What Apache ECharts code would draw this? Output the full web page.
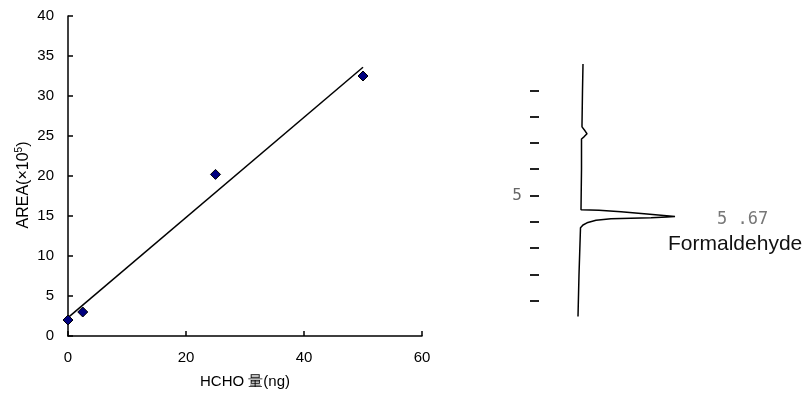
<!DOCTYPE html>
<html>
<head>
<meta charset="utf-8">
<script src="https://cdn.jsdelivr.net/npm/echarts@6/dist/echarts.min.js"></script>
<style>
html,body{margin:0;padding:0;background:#fff;}
#chart{width:812px;height:399px;}
</style>
</head>
<body>
<div id="chart"></div>
<script>
// Calibration data (HCHO amount in ng vs peak area x10^5)
const amountNg = [0, 2.5, 25, 50];
const areaE5 = [2.0, 3.0, 20.2, 32.5];
// Fitted calibration line endpoints
const fitAmount = [0, 50];
const fitArea = [2.3, 33.6];
// Chromatogram trace: retention time (min) and detector signal
const chromTime = [0.0, 1.0, 2.3, 2.39, 2.46, 2.54, 2.65, 2.77, 2.85, 4.0, 5.54, 5.56, 5.62, 5.70, 5.798, 5.82, 5.848, 5.886, 5.943, 6.038, 6.12, 6.228, 8.0, 9.6];
const chromSignal = [2, 1.5, 1, 1, 3, 4, 6, 3, 0.5, 0.5, 0, 18, 40, 66, 94, 86, 70, 30, 15, 6, 2, -0.5, -2, -3];
const chromTicks = [1, 2, 3, 4, 5, 6, 7, 8, 9];
const chromLabels = [5];
const peakTime = '5 .67';
const peakName = 'Formaldehyde';

const chart = echarts.init(document.getElementById('chart'), null, {renderer: 'canvas'});
const font = 'Liberation Sans, Arial, sans-serif';
const option = {
  animation: false,
  backgroundColor: '#fff',
  textStyle: {fontFamily: font},
  grid: [
    {left: 68, top: 16, width: 354, height: 320},
    {left: 539, top: 64, width: 142, height: 252.5}
  ],
  xAxis: [
    {
      gridIndex: 0, type: 'value', min: 0, max: 60, interval: 20,
      name: 'HCHO 量(ng)', nameLocation: 'middle', nameGap: 38,
      nameTextStyle: {color: '#000', fontSize: 15, fontFamily: font},
      axisLine: {lineStyle: {color: '#000', width: 1.5}},
      axisTick: {inside: true, length: 5, lineStyle: {color: '#000', width: 1.5}},
      axisLabel: {color: '#000', fontSize: 15, margin: 14, fontFamily: font},
      splitLine: {show: false}
    },
    {
      gridIndex: 1, type: 'value', min: -42, max: 100, show: false
    }
  ],
  yAxis: [
    {
      gridIndex: 0, type: 'value', min: 0, max: 40, interval: 5,
      name: '{b|AREA(×10}{sup|5}{b|)}', nameLocation: 'middle', nameGap: 36, nameRotate: 90,
      nameTextStyle: {color: '#000', fontSize: 16, fontFamily: font, padding: [0, 18, 0, 0],
        rich: {
          b: {fontSize: 16, lineHeight: 18, verticalAlign: 'bottom', fontFamily: font, color: '#000'},
          sup: {fontSize: 10, lineHeight: 18, verticalAlign: 'top', fontFamily: font, color: '#000'}
        }},
      axisLine: {lineStyle: {color: '#000', width: 1.5}},
      axisTick: {inside: true, length: 5, lineStyle: {color: '#000', width: 1.5}},
      axisLabel: {color: '#000', fontSize: 15, margin: 14, fontFamily: font},
      splitLine: {show: false}
    },
    {
      gridIndex: 1, type: 'value', min: 0, max: 9.6, interval: 1, inverse: true,
      axisLine: {show: false, onZero: false},
      axisTick: {show: true, inside: false, length: 9, customValues: chromTicks,
        lineStyle: {color: '#222', width: 2}},
      axisLabel: {show: true, customValues: chromLabels, margin: 17, color: '#666',
        fontSize: 16, fontFamily: 'DejaVu Sans Mono, monospace'},
      splitLine: {show: false}
    }
  ],
  series: [
    {
      type: 'line', xAxisIndex: 0, yAxisIndex: 0,
      data: fitAmount.map((x, i) => [x, fitArea[i]]),
      showSymbol: false, symbol: 'none',
      lineStyle: {color: '#000', width: 1.5}, z: 2
    },
    {
      type: 'scatter', xAxisIndex: 0, yAxisIndex: 0,
      data: amountNg.map((x, i) => [x, areaE5[i]]),
      symbol: 'diamond', symbolSize: 10,
      itemStyle: {color: '#000080', borderColor: '#000', borderWidth: 1, opacity: 1}, z: 3
    },
    {
      type: 'line', xAxisIndex: 1, yAxisIndex: 1,
      data: chromTime.map((t, i) => [chromSignal[i], t]),
      showSymbol: false, symbol: 'none',
      lineStyle: {color: '#000', width: 1.5}
    }
  ],
  graphic: [
    {type: 'text', left: 717, top: 211, style: {text: peakTime, fill: '#777', fontSize: 17, fontFamily: 'DejaVu Sans Mono, monospace'}},
    {type: 'text', left: 668, top: 234, style: {text: peakName, fill: '#111', fontSize: 21, fontFamily: font}}
  ]
};
chart.setOption(option);
</script>
</body>
</html>
